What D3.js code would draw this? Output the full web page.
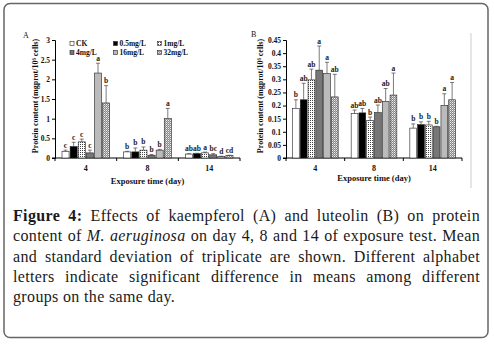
<!DOCTYPE html>
<html><head><meta charset="utf-8">
<script src="https://cdn.jsdelivr.net/npm/d3@7"></script>
<style>
body{margin:0;background:#fff;}
#wrap{position:relative;width:494px;height:345px;overflow:hidden;}
svg{position:absolute;left:0;top:0;}
#cap{position:absolute;left:13px;top:206px;width:467px;font-family:"Liberation Serif","Times New Roman",serif;font-size:16px;letter-spacing:0.35px;line-height:20.3px;color:#1a1a1a;}
#cap div{text-align:justify;text-align-last:justify;white-space:nowrap;}
#cap div.last{text-align-last:left;}
</style></head><body>
<div id="wrap"><svg id="chart" width="494" height="345"></svg><div id="cap"></div></div>
<script>
// ---------- data ----------
const days = ["4", "8", "14"];
const series = ["CK", "0.5mg/L", "1mg/L", "4mg/L", "16mg/L", "32mg/L"];

// Panel A: kaempferol (mean per day for each series)
const kaempferolMean = [
  [0.17, 0.155, 0.10],
  [0.29, 0.155, 0.11],
  [0.41, 0.20, 0.13],
  [0.13, 0.07, 0.08],
  [2.16, 0.20, 0.035],
  [1.40, 1.00, 0.06]
];
const kaempferolSD = [
  [0.03, 0.015, 0.01],
  [0.11, 0.10, 0.01],
  [0.07, 0.08, 0.02],
  [0.07, 0.02, 0.03],
  [0.25, 0.02, 0.01],
  [0.44, 0.26, 0.01]
];
const kaempferolLetters = [
  ["c", "b", "ab"],
  ["c", "b", "ab"],
  ["c", "b", "a"],
  ["c", "b", "bc"],
  ["a", "b", "d"],
  ["b", "a", "cd"]
];

// Panel B: luteolin
const luteolinMean = [
  [0.189, 0.169, 0.114],
  [0.222, 0.172, 0.127],
  [0.298, 0.143, 0.126],
  [0.335, 0.173, 0.119],
  [0.322, 0.216, 0.200],
  [0.233, 0.240, 0.222]
];
const luteolinSD = [
  [0.033, 0.014, 0.016],
  [0.063, 0.017, 0.011],
  [0.041, 0.013, 0.014],
  [0.092, 0.029, 0.002],
  [0.043, 0.049, 0.045],
  [0.086, 0.084, 0.066]
];
const luteolinLetters = [
  ["b", "ab", "b"],
  ["ab", "ab", "b"],
  ["ab", "b", "b"],
  ["a", "ab", "b"],
  ["a", "ab", "a"],
  ["ab", "a", "a"]
];

const ticksA = [0, 0.5, 1, 1.5, 2, 2.5, 3];
const tickLabelsA = ["0", "0.5", "1", "1.5", "2", "2.5", "3"];
const ticksB = [0, 0.05, 0.1, 0.15, 0.2, 0.25, 0.3, 0.35, 0.4, 0.45];
const tickLabelsB = ["0", "0.05", "0.1", "0.15", "0.2", "0.25", "0.3", "0.35", "0.4", "0.45"];

const yTitle = "Protein content (mgprot/10\u2076 cells)";
const xTitle = "Exposure time (day)";

// ---------- drawing ----------
const svg = d3.select("#chart");
const FONT = "'Liberation Serif','Times New Roman',serif";

// box
svg.append("rect").attr("x", 4).attr("y", 3.5).attr("width", 484).attr("height", 334)
  .attr("rx", 6).attr("fill", "none").attr("stroke", "#666").attr("stroke-width", 1.5);

// patterns
const defs = svg.append("defs");
const p1 = defs.append("pattern").attr("id", "dots").attr("width", 2).attr("height", 2)
  .attr("patternUnits", "userSpaceOnUse");
p1.append("rect").attr("width", 2).attr("height", 2).attr("fill", "#fff");
p1.append("rect").attr("width", 1).attr("height", 1).attr("fill", "#444");
const p2 = defs.append("pattern").attr("id", "grid").attr("width", 2).attr("height", 2)
  .attr("patternUnits", "userSpaceOnUse");
p2.append("rect").attr("width", 2).attr("height", 2).attr("fill", "#888");
p2.append("rect").attr("width", 1).attr("height", 1).attr("fill", "#eee");
p2.append("rect").attr("x", 1).attr("y", 1).attr("width", 1).attr("height", 1).attr("fill", "#bbb");

const fills = ["#fff", "#000", "url(#dots)", "#777", "#bbb", "url(#grid)"];

function panel(opt) {
  const g = svg.append("g");
  const x0 = d3.scaleBand().domain(days).range([opt.left, opt.right]);
  const x1 = d3.scaleBand().domain(series)
    .range([opt.inset, x0.bandwidth() - opt.inset]).paddingInner(0.13);
  const y = d3.scaleLinear().domain(opt.domain).range([opt.bottom, opt.top]);

  // y axis
  const ya = d3.axisLeft(y).tickValues(opt.ticks).tickFormat((d, i) => opt.tickLabels[i])
    .tickSize(3).tickPadding(2);
  const yg = g.append("g").attr("transform", `translate(${opt.left},0)`).call(ya);
  yg.select(".domain").attr("stroke", "#000").attr("stroke-width", 1);
  yg.selectAll("text").attr("font-family", FONT).attr("font-weight", "bold")
    .attr("font-size", 7.5).attr("fill", "#111");

  // x axis
  const xa = d3.axisBottom(x0).tickSize(0).tickPadding(7);
  const xg = g.append("g").attr("transform", `translate(0,${opt.bottom})`).call(xa);
  xg.select(".domain").attr("stroke", "#000").attr("stroke-width", 1)
    .attr("d", `M${opt.left - 3},0H${opt.right}`);
  xg.selectAll("text").attr("font-family", FONT).attr("font-weight", "bold")
    .attr("font-size", 8).attr("fill", "#111");
  // boundary ticks
  const bounds = days.map(d => x0(d)).concat([opt.right]);
  xg.selectAll("line.bt").data(bounds).enter().append("line").attr("class", "bt")
    .attr("x1", d => d).attr("x2", d => d).attr("y1", 0).attr("y2", 3)
    .attr("stroke", "#000").attr("stroke-width", 1);

  // bars
  series.forEach((s, si) => {
    const sg = g.append("g");
    days.forEach((d, di) => {
      const v = opt.mean[si][di], e = opt.sd[si][di];
      const bx = x0(d) + x1(s), bw = x1.bandwidth();
      sg.append("rect").attr("x", bx).attr("y", y(v)).attr("width", bw)
        .attr("height", y(0) - y(v)).attr("fill", fills[si])
        .attr("stroke", "#222").attr("stroke-width", 0.6);
      const cx = bx + bw / 2;
      sg.append("line").attr("x1", cx).attr("x2", cx).attr("y1", y(v)).attr("y2", y(v + e))
        .attr("stroke", "#444").attr("stroke-width", 0.7);
      sg.append("line").attr("x1", cx - 2).attr("x2", cx + 2).attr("y1", y(v + e)).attr("y2", y(v + e))
        .attr("stroke", "#444").attr("stroke-width", 0.7);
      sg.append("text").attr("x", cx).attr("y", y(v + e) - 2.5).attr("text-anchor", "middle")
        .attr("font-family", FONT).attr("font-weight", "bold").attr("font-size", 7.5)
        .attr("fill", "#222").text(opt.letters[si][di]);
    });
  });

  // titles
  g.append("text").attr("transform", `translate(${opt.yTitleX},${(opt.top + opt.bottom) / 2 - 3}) rotate(-90)`)
    .attr("text-anchor", "middle").attr("font-family", FONT).attr("font-weight", "bold")
    .attr("font-size", 8).attr("fill", "#111").text(yTitle);
  g.append("text").attr("x", (opt.left + opt.right) / 2).attr("y", opt.xTitleY)
    .attr("text-anchor", "middle").attr("font-family", FONT).attr("font-weight", "bold")
    .attr("font-size", 8.5).attr("fill", "#111").text(xTitle);
  g.append("text").attr("x", opt.labelX).attr("y", opt.labelY)
    .attr("font-family", FONT).attr("font-size", 8).attr("fill", "#111").text(opt.label);
  return { g, x0, y };
}

panel({
  left: 55, right: 240, top: 40, bottom: 158, inset: 7, domain: [0, 3],
  ticks: ticksA, tickLabels: tickLabelsA,
  mean: kaempferolMean, sd: kaempferolSD, letters: kaempferolLetters,
  yTitleX: 38, xTitleY: 184, label: "A", labelX: 23, labelY: 38
});
panel({
  left: 286, right: 462, top: 40, bottom: 158, inset: 6.5, domain: [0, 0.45],
  ticks: ticksB, tickLabels: tickLabelsB,
  mean: luteolinMean, sd: luteolinSD, letters: luteolinLetters,
  yTitleX: 263, xTitleY: 181, label: "B", labelX: 251, labelY: 37
});

// divider line at right of panel B
svg.append("line").attr("x1", 471).attr("x2", 471).attr("y1", 33).attr("y2", 188)
  .attr("stroke", "#ccc").attr("stroke-width", 1);

// legend (panel A)
const legCols = [70, 113.5, 157.5], legRows = [45, 54];
const leg = svg.append("g");
series.forEach((s, i) => {
  const lx = legCols[i % 3], ly = legRows[Math.floor(i / 3)];
  leg.append("rect").attr("x", lx).attr("y", ly - 3.5).attr("width", 4).attr("height", 4)
    .attr("fill", fills[i]).attr("stroke", "#222").attr("stroke-width", 0.6);
  leg.append("text").attr("x", lx + 6).attr("y", ly + 0.5).attr("font-family", FONT)
    .attr("font-weight", "bold").attr("font-size", 7.5).attr("fill", "#111").text(s);
});

// caption
const capLines = [
  '<b>Figure 4:</b> Effects of kaempferol (A) and luteolin (B) on protein',
  'content of <i>M. aeruginosa</i> on day 4, 8 and 14 of exposure test. Mean',
  'and standard deviation of triplicate are shown. Different alphabet',
  'letters indicate significant difference in means among different',
  'groups on the same day.'
];
const cap = d3.select("#cap");
capLines.forEach((t, i) => {
  cap.append("div").attr("class", i === capLines.length - 1 ? "last" : null).html(t);
});
</script>
</body></html>
